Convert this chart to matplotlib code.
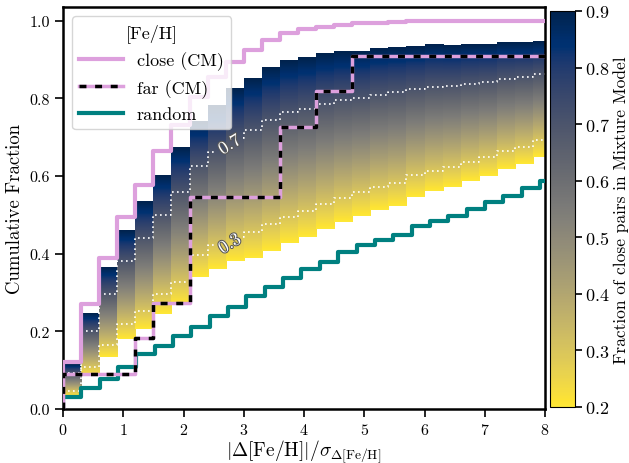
import numpy as np
import matplotlib
matplotlib.use('Agg')
import matplotlib.pyplot as plt
import matplotlib.patheffects as pe
from matplotlib.cm import ScalarMappable
from matplotlib.colors import Normalize

plt.rcParams['font.family'] = 'cmr10'
plt.rcParams['mathtext.fontset'] = 'cm'
plt.rcParams['axes.formatter.use_mathtext'] = True
plt.rcParams['axes.unicode_minus'] = False

# bins in |dFe/H| / sigma (0.3 wide)
bin_edges = np.arange(28) * 0.3

# mixture model band: f = 0.2 (bottom) and f = 0.9 (top) per bin
mix_low = [0.034, 0.086, 0.133, 0.180, 0.206, 0.245, 0.268, 0.339, 0.361, 0.380,
           0.390, 0.408, 0.427, 0.444, 0.464, 0.481, 0.498, 0.513, 0.523, 0.546,
           0.560, 0.571, 0.586, 0.601, 0.617, 0.631, 0.649]
mix_high = [0.116, 0.247, 0.363, 0.460, 0.533, 0.601, 0.674, 0.739, 0.782, 0.825,
            0.851, 0.880, 0.898, 0.905, 0.915, 0.920, 0.922, 0.928, 0.932, 0.934,
            0.936, 0.936, 0.938, 0.940, 0.942, 0.943, 0.947]
f_min, f_max = 0.2, 0.9
contour_levels = [0.3, 0.7]

# measured cumulative distributions
close_cm = [0.122, 0.271, 0.388, 0.494, 0.576, 0.663, 0.730, 0.803, 0.855, 0.893,
            0.925, 0.951, 0.968, 0.978, 0.984, 0.989, 0.993, 0.995, 0.997, 0.998,
            0.999, 0.999, 1.0, 1.0, 1.0, 1.0, 1.0]
far_counts = [1, 1, 1, 1, 2, 3, 3, 6, 6, 6, 6, 6, 8, 8, 9, 9,
              10, 10, 10, 10, 10, 10, 10, 10, 10, 10, 10]
far_n = 11
far_cm = np.array(far_counts) / far_n

rand_edges = np.append(np.arange(27) * 0.3045, 8.0)
random_cm = [0.030, 0.053, 0.077, 0.108, 0.142, 0.163, 0.189, 0.210, 0.240, 0.262,
             0.292, 0.314, 0.337, 0.361, 0.378, 0.404, 0.421, 0.436, 0.448, 0.470,
             0.483, 0.497, 0.515, 0.532, 0.548, 0.570, 0.588]


def step_xy(edges, vals):
    return np.r_[0, edges], np.r_[0, vals, vals[-1]]


fig = plt.figure(figsize=(6.29, 4.64), dpi=100)
ax = fig.add_axes([63 / 629, 54 / 464, 482 / 629, 402 / 464])
cax = fig.add_axes([550 / 629, 56 / 464, 25 / 629, 396 / 464])

cmap = plt.get_cmap('cividis_r')
grad = np.linspace(f_min, f_max, 200).reshape(-1, 1)
for i in range(len(mix_low)):
    ax.imshow(grad, cmap=cmap, vmin=f_min, vmax=f_max, origin='lower', aspect='auto',
              extent=[bin_edges[i], bin_edges[i + 1], mix_low[i], mix_high[i]],
              interpolation='bilinear', zorder=1)

# white dotted contours of constant mixture fraction, broken where labelled
low = np.array(mix_low)
high = np.array(mix_high)
label_pos = {0.3: (2.77, 0.425), 0.7: (2.77, 0.68)}
for lev in contour_levels:
    yc = low + (lev - f_min) / (f_max - f_min) * (high - low)
    lx, ly = label_pos[lev]
    g0, g1 = lx - 0.22, lx + 0.22
    xs, ys = [], []
    for i in range(len(yc)):
        a, b = bin_edges[i], bin_edges[i + 1]
        if b <= g0 or a >= g1:
            xs += [a, b]
            ys += [yc[i], yc[i]]
            continue
        if a < g0:
            xs += [a, g0, np.nan]
            ys += [yc[i], yc[i], np.nan]
        if b > g1:
            xs += [g1, b]
            ys += [yc[i], yc[i]]
    ax.plot(xs, ys, color='white', ls=(0, (1, 2)), lw=1.2, zorder=2)
    ax.text(lx, ly, f'{lev:.1f}', color='white', fontsize=13, rotation=32, ha='center',
            va='center', zorder=3,
            path_effects=[pe.withStroke(linewidth=1.5, foreground='0.35')])

pink = '#dda0dd'
x, y = step_xy(bin_edges, close_cm)
l_close, = ax.step(x, y, where='post', color=pink, lw=3, zorder=4)
x, y = step_xy(bin_edges, far_cm)
l_far1, = ax.step(x, y, where='post', color=pink, lw=2.5, zorder=5)
l_far2, = ax.step(x, y, where='post', color='black', lw=2.5, ls=(0, (2, 2.5)), zorder=6)
x, y = step_xy(rand_edges, random_cm)
l_rand, = ax.step(x, y, where='post', color='teal', lw=3, zorder=4)

ax.set_xlim(0, 8)
ax.set_ylim(0, 1.035)
ax.set_xticks(range(9))
ax.set_yticks([0.0, 0.2, 0.4, 0.6, 0.8, 1.0])
ax.set_yticklabels(['0.0', '0.2', '0.4', '0.6', '0.8', '1.0'])
ax.tick_params(direction='out', length=6, width=1.2, labelsize=11.5)
for s in ax.spines.values():
    s.set_linewidth(1.8)
ax.set_xlabel(r'$|\Delta[\mathrm{Fe/H}]|/\sigma_{\Delta[\mathrm{Fe/H}]}$', fontsize=14, labelpad=0)
ax.set_ylabel('Cumulative Fraction', fontsize=13.5, labelpad=4)

leg = ax.legend([l_close, (l_far1, l_far2), l_rand], ['close (CM)', 'far (CM)', 'random'],
                title='[Fe/H]', loc='upper left', fontsize=13, title_fontsize=13,
                handlelength=2.4, borderaxespad=0.5)
leg.set_zorder(10)

sm = ScalarMappable(norm=Normalize(f_min, f_max), cmap=cmap)
cb = fig.colorbar(sm, cax=cax)
cb.set_ticks([0.2, 0.3, 0.4, 0.5, 0.6, 0.7, 0.8, 0.9])
cb.ax.tick_params(labelsize=13, length=5, width=1.2, pad=2)
cb.set_label('Fraction of close pairs in Mixture Model', fontsize=12.5, labelpad=3)

fig.savefig('out.png', dpi=100)
